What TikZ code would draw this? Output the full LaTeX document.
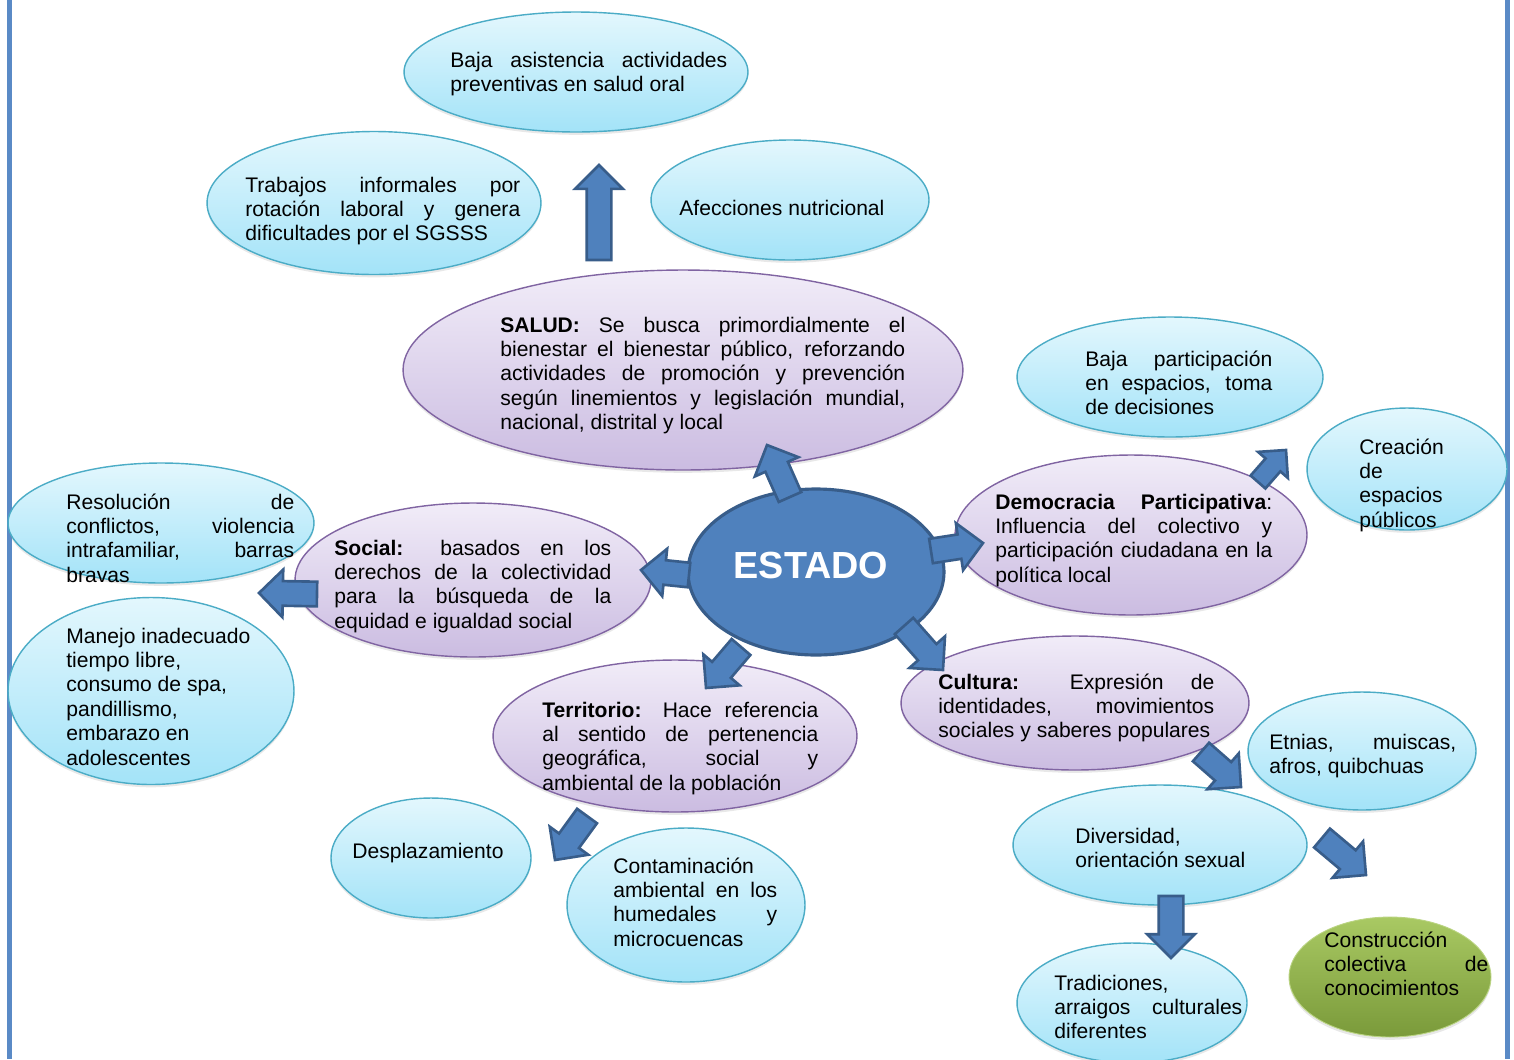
\documentclass[tikz,border=0pt]{standalone}
\usepackage{fontspec}
\setmainfont{Liberation Sans}
\usetikzlibrary{shapes.geometric,shapes.arrows,calc,shadows}
\definecolor{arrowfill}{HTML}{4F81BD}
\definecolor{arrowline}{HTML}{385D8A}
\definecolor{cyanline}{HTML}{4BACC6}
\definecolor{cyantop}{HTML}{E3F7FD}
\definecolor{cyanbot}{HTML}{A3E3F8}
\definecolor{purpline}{HTML}{8064A2}
\definecolor{purptop}{HTML}{F1ECF8}
\definecolor{purpbot}{HTML}{CBBCE1}
\definecolor{greentop}{HTML}{A9C963}
\definecolor{greenbot}{HTML}{7A9A3A}
\definecolor{bordercol}{HTML}{5A8AC6}
\newcommand\tbx[2]{\vtop{\hsize=#1\relax\parindent=0pt\relax #2}}
\newcommand\jline[1]{\noindent\makebox[\hsize][s]{#1}\par}
\newcommand\lline[1]{\noindent #1\par}
\newcommand\barr[4][]{\path let \p1=($(#4)-(#3)$), \n1={atan2(\y1,\x1)}, \n2={veclen(\x1,\y1)} in node[blockarrow,#1,minimum height=\n2,rotate=\n1,anchor=tail] (#2) at (#3) {};}
\tikzset{
  ellbase/.style={ellipse, inner sep=0pt, outer sep=0pt, drop shadow={shadow xshift=0pt, shadow yshift=-1.6pt, opacity=0.18}},
  cyanell/.style={ellbase, draw=cyanline, line width=0.8pt, top color=cyantop, bottom color=cyanbot},
  purpell/.style={ellbase, draw=purpline, line width=0.8pt, top color=purptop, bottom color=purpbot},
  greenell/.style={ellbase, draw=greentop!80!white, line width=0.5pt, top color=greentop, bottom color=greenbot},
  estadoell/.style={ellipse, inner sep=0pt, draw=arrowline, line width=1.8pt, fill=arrowfill},
  blockarrow/.style={single arrow, draw=arrowline, fill=arrowfill, line width=1.5pt, inner xsep=0pt, outer sep=0pt, inner ysep=0.22cm, single arrow head extend=0.23cm},
  txt/.style={anchor=base west, inner sep=0pt, font=\fontsize{12}{13.9}\selectfont},
}
\begin{document}
\begin{tikzpicture}[x=0.02cm, y=-0.02cm]
\useasboundingbox (0,0) rectangle (1514,1059);
\fill[white] (0,0) rectangle (1514,1059);
\fill[bordercol] (7,0) rectangle (12,1059);
\fill[bordercol] (1505,0) rectangle (1510,1059);

% ellipses
\node[cyanell, minimum width=6.88cm, minimum height=2.40cm] (e1) at (576,72) {};
\node[cyanell, minimum width=6.68cm, minimum height=2.86cm] (e2) at (374,203) {};
\node[cyanell, minimum width=5.56cm, minimum height=2.40cm] (e3) at (790,200) {};
\node[purpell, minimum width=11.2cm, minimum height=4.0cm] (salud) at (683,370) {};
\node[cyanell, minimum width=6.12cm, minimum height=2.40cm] (e5) at (1170,377) {};
\node[cyanell, minimum width=4.0cm, minimum height=2.44cm] (e6) at (1407,469) {};
\node[purpell, minimum width=7.04cm, minimum height=3.2cm] (demo) at (1131,535) {};
\node[purpell, minimum width=7.12cm, minimum height=3.08cm] (social) at (473,580) {};
\node[cyanell, minimum width=6.12cm, minimum height=2.40cm] (e10) at (161,523) {};
\node[cyanell, minimum width=5.72cm, minimum height=3.74cm] (e11) at (151,691) {};
\node[purpell, minimum width=7.28cm, minimum height=3.04cm] (terr) at (675,736) {};
\node[purpell, minimum width=6.96cm, minimum height=2.68cm] (cult) at (1075,703) {};
\node[cyanell, minimum width=4.56cm, minimum height=2.36cm] (e14) at (1362,751) {};
\node[cyanell, minimum width=5.88cm, minimum height=2.40cm] (e15) at (1160,845) {};
\node[cyanell, minimum width=4.60cm, minimum height=2.40cm] (e16) at (1132,1003) {};
\node[greenell, minimum width=4.04cm, minimum height=2.40cm] (e17) at (1390,977) {};
\node[cyanell, minimum width=4.0cm, minimum height=2.40cm] (e18) at (431,858) {};
\node[cyanell, minimum width=4.76cm, minimum height=3.08cm] (e19) at (686,905) {};
\node[estadoell, minimum width=5.12cm, minimum height=3.32cm] (estado) at (816,572) {};

% arrow end points
\coordinate (a1s) at (599,260);  \coordinate (a1e) at (599,165);
\coordinate (a2s) at (790,497);  \coordinate (a2e) at (767,445);
\coordinate (a3s) at (689,575);  \coordinate (a3e) at (641,570);
\coordinate (a4s) at (931,551);  \coordinate (a4e) at (983,543);
\coordinate (a5s) at (904,626);  \coordinate (a5e) at (943,670);
\coordinate (a6s) at (741,647);  \coordinate (a6e) at (706,688);
\coordinate (a7s) at (317,594);  \coordinate (a7e) at (259,593);
\coordinate (a8s) at (1258,482); \coordinate (a8e) at (1286,450);
\coordinate (a9s) at (1201,752); \coordinate (a9e) at (1241,787);
\coordinate (a10s) at (1322,838); \coordinate (a10e) at (1366,875);
\coordinate (a11s) at (1171,896); \coordinate (a11e) at (1171,958);
\coordinate (a12s) at (587,816); \coordinate (a12e) at (555,860);

\barr{arr1}{a1s}{a1e}
\barr{arr2}{a2s}{a2e}
\barr{arr3}{a3s}{a3e}
\barr{arr4}{a4s}{a4e}
\barr{arr5}{a5s}{a5e}
\barr{arr6}{a6s}{a6e}
\barr{arr7}{a7s}{a7e}
\barr[inner ysep=0.17cm, single arrow head extend=0.2cm]{arr8}{a8s}{a8e}
\barr{arr9}{a9s}{a9e}
\barr{arr10}{a10s}{a10e}
\barr{arr11}{a11s}{a11e}
\barr{arr12}{a12s}{a12e}

% texts
\node[txt] (t1) at (450,67) {\tbx{5.54cm}{\jline{Baja asistencia actividades}\lline{preventivas en salud oral}}};
\node[txt] (t2) at (245,192) {\tbx{5.5cm}{\jline{Trabajos informales por}\jline{rotación laboral y genera}\lline{dificultades por el SGSSS}}};
\node[txt] (t3) at (679,215) {Afecciones nutricional};
\node[txt] (tsalud) at (500,332) {\tbx{8.1cm}{\jline{\textbf{SALUD:} Se busca primordialmente el}\jline{bienestar el bienestar público, reforzando}\jline{actividades de promoción y prevención}\jline{según linemientos y legislación mundial,}\lline{nacional, distrital y local}}};
\node[txt] (t5) at (1085,366) {\tbx{3.74cm}{\jline{Baja participación}\jline{en espacios, toma}\lline{de decisiones}}};
\node[txt] (t6) at (1359,454) {\tbx{4cm}{\lline{Creación}\lline{de}\lline{espacios}\lline{públicos}}};
\node[txt] (tdemo) at (995,509) {\tbx{5.54cm}{\jline{\textbf{Democracia Participativa}:}\jline{Influencia del colectivo y}\jline{participación ciudadana en la}\lline{política local}}};
\node[txt] (tsocial) at (334,555) {\tbx{5.54cm}{\jline{\textbf{Social:} basados en los}\jline{derechos de la colectividad}\jline{para la búsqueda de la}\lline{equidad e igualdad social}}};
\node[txt] (t10) at (66,509) {\tbx{4.56cm}{\jline{Resolución de}\jline{conflictos, violencia}\jline{intrafamiliar, barras}\lline{bravas}}};
\node[txt] (t11) at (66,643) {\tbx{6cm}{\lline{Manejo inadecuado}\lline{tiempo libre,}\lline{consumo de spa,}\lline{pandillismo,}\lline{embarazo en}\lline{adolescentes}}};
\node[txt] (tterr) at (542,717) {\tbx{5.52cm}{\jline{\textbf{Territorio:} Hace referencia}\jline{al sentido de pertenencia}\jline{geográfica, social y}\lline{ambiental de la población}}};
\node[txt] (tcult) at (938,689) {\tbx{5.52cm}{\jline{\textbf{Cultura:} Expresión de}\jline{identidades, movimientos}\lline{sociales y saberes populares}}};
\node[txt] (t14) at (1269,749) {\tbx{3.74cm}{\jline{Etnias, muiscas,}\lline{afros, quibchuas}}};
\node[txt] (t15) at (1075,843) {\tbx{5cm}{\lline{Diversidad,}\lline{orientación sexual}}};
\node[txt] (t16) at (1054,990) {\tbx{3.76cm}{\lline{Tradiciones,}\jline{arraigos culturales}\lline{diferentes}}};
\node[txt] (t17) at (1324,947) {\tbx{3.28cm}{\lline{Construcción}\jline{colectiva de}\lline{conocimientos}}};
\node[txt] (t18) at (352,858) {Desplazamiento};
\node[txt] (t19) at (613,873) {\tbx{3.28cm}{\lline{Contaminación}\jline{ambiental en los}\jline{humedales y}\lline{microcuencas}}};
\node[inner sep=0pt, text=white, font=\bfseries\fontsize{21.5}{25}\selectfont] (testado) at (811,565) {ESTADO};
\end{tikzpicture}
\end{document}
